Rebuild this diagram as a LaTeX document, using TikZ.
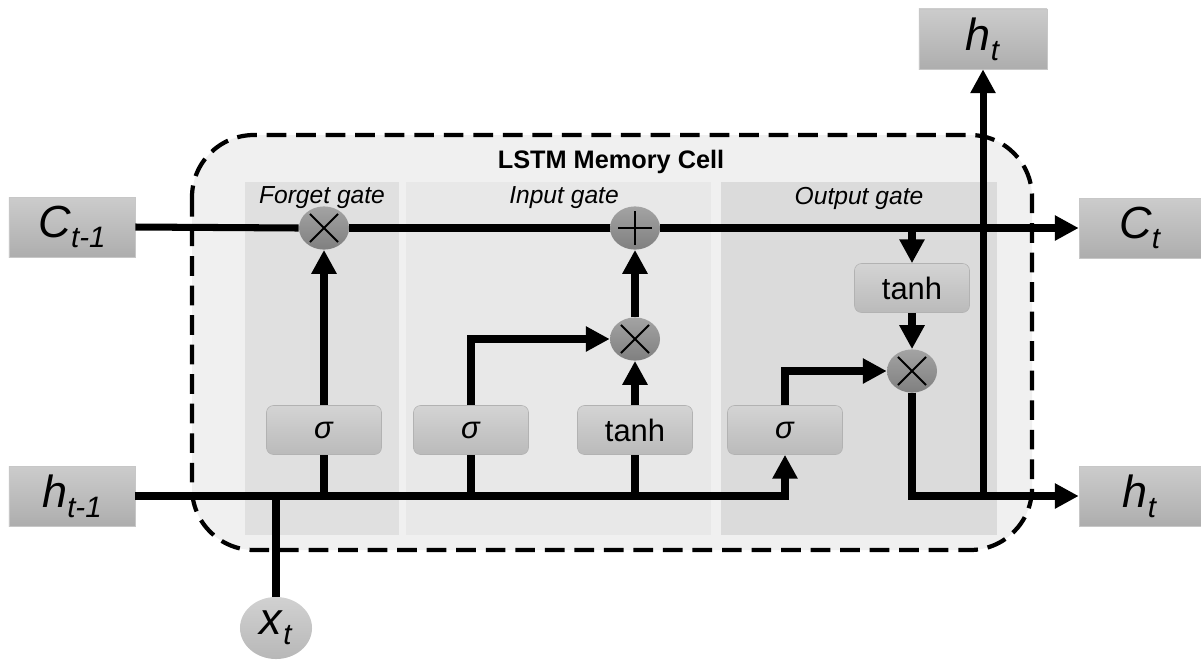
\documentclass[tikz,border=0pt]{standalone}
\usepackage{fontspec}
\setmainfont{Liberation Sans}
\usetikzlibrary{arrows.meta,positioning,shapes.geometric}
\newcommand{\lbl}[2]{\textit{#1}\raisebox{-7pt}{\fontsize{21}{21}\selectfont\textit{#2}}}

\begin{document}
\begin{tikzpicture}[x=0.025cm,y=-0.025cm,
 ln/.style={line width=5pt},
 ar/.style={line width=5pt,-{Triangle[length=17pt,width=17pt]}},
 io/.style={draw=black!22,top color=black!20,bottom color=black!32,minimum width=3.15cm,minimum height=1.5cm,inner sep=0pt,font=\fontsize{32}{32}\selectfont},
 fn/.style={draw=black!30,rounded corners=5pt,top color=black!17,bottom color=black!27,minimum width=2.875cm,minimum height=1.225cm,inner sep=0pt,font=\fontsize{22}{22}\selectfont},
 op/.style={ellipse,top color=black!36,bottom color=black!50,minimum width=1.25cm,minimum height=1.08cm,inner sep=0pt},
 mul/.style={op,path picture={\draw[line width=1.3pt]
   ([shift={(-10pt,-10pt)}]path picture bounding box.center)--([shift={(10pt,10pt)}]path picture bounding box.center)
   ([shift={(-10pt,10pt)}]path picture bounding box.center)--([shift={(10pt,-10pt)}]path picture bounding box.center);}},
 add/.style={op,path picture={\draw[line width=1.3pt]
   ([xshift=-12pt]path picture bounding box.center)--([xshift=12pt]path picture bounding box.center)
   ([yshift=-12pt]path picture bounding box.center)--([yshift=12pt]path picture bounding box.center);}},
 gate/.style={font=\fontsize{17.5}{17.5}\selectfont\itshape}]
 \useasboundingbox (0,0) rectangle (1201,660);
 % cell and gate panels
 \draw[line width=3pt,dash pattern=on 14pt off 7pt,fill=black!6,rounded corners=1.55cm] (192,135) rectangle (1032,550);
 \fill[black!12] (245,182) rectangle (399,535);
 \fill[black!9] (406,182) rectangle (711,535);
 \fill[black!14] (721,182) rectangle (997,535);
 \node[font=\fontsize{18}{18}\selectfont\bfseries](title) at (611,162){LSTM Memory Cell};
 \node[gate](fg) at (322,198){Forget gate};
 \node[gate](ig) at (564,198){Input gate};
 \node[gate](og) at (859,198){Output gate};
 % inputs and outputs
 \node[io](cprev) at (72,227){\lbl{C}{t-1}};
 \node[io](hprev) at (72,496){\lbl{h}{t-1}};
 \node[io,minimum width=3.05cm](cnext) at (1140,228){\lbl{C}{t}};
 \node[io,minimum width=3.05cm](hnext) at (1140,496){\lbl{h}{t}};
 \node[io,minimum width=3.2cm](hout) at (983,39){\lbl{h}{t}};
 \node[ellipse,top color=black!18,bottom color=black!28,minimum width=1.8cm,minimum height=1.55cm,inner sep=0pt,font=\fontsize{32}{32}\selectfont](xin) at (276,628){\lbl{x}{t}};
 % layers and pointwise ops
 \node[fn](fs) at (324,430){\textit{σ}};
 \node[fn](is) at (471,430){\textit{σ}};
 \node[fn](it) at (635,430){tanh};
 \node[fn](os) at (785,430){\textit{σ}};
 \node[fn](ot) at (912,288){tanh};
 \node[mul](fx) at (324,228){};
 \node[add](ip) at (635,228){};
 \node[mul](ix) at (635,339){};
 \node[mul](ox) at (912,371){};
 % cell state
 \draw[ln](cprev.east)--(fx.west);
 \draw[ln](fx.east)--(ip.west);
 \draw[ar](ip.east)--(cnext.west);
 \draw[ar](ot|-ip)--(ot.north);
 % hidden state and input
 \draw[ar](hprev.east)-|(os.south);
 \draw[ln](xin.north)--(xin|-hprev);
 \draw[ln](fs|-hprev)--(fs.south);
 \draw[ln](is|-hprev)--(is.south);
 \draw[ln](it|-hprev)--(it.south);
 \draw[ar](fs.north)--(fx.south);
 \draw[ar](is.north)|-(ix.west);
 \draw[ar](it.north)--(ix.south);
 \draw[ar](ix.north)--(ip.south);
 \draw[ar](os.north)|-(ox.west);
 \draw[ar](ot.south)--(ox.north);
 \draw[ar](ox.south)|-(hnext.west);
 \draw[ar](hout|-hnext)--(hout.south);
\end{tikzpicture}
\end{document}
